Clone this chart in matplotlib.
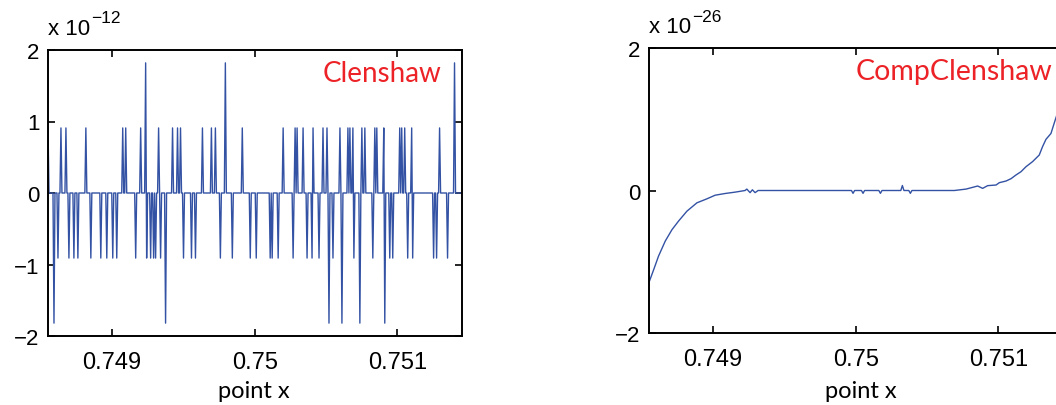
import numpy as np
import matplotlib
matplotlib.use('Agg')
import matplotlib.pyplot as plt

plt.rcParams['font.family'] = ['Liberation Sans', 'DejaVu Sans']
plt.rcParams['axes.unicode_minus'] = True

# Clenshaw error (units of 1e-12): positions of the spikes, everything else is 0
lvl1, lvl2 = 0.91, 1.82
up1_x = [0.748550, 0.748643, 0.748676, 0.748816, 0.749077, 0.749096, 0.749203,
         0.749324, 0.749424, 0.749457, 0.749480, 0.749634, 0.749697, 0.749725,
         0.749916, 0.750196, 0.750280, 0.750299, 0.750336, 0.750406, 0.750476,
         0.750508, 0.750594, 0.750650, 0.750669, 0.750687, 0.750748, 0.750773,
         0.750843, 0.750858, 0.750904, 0.751014, 0.751030, 0.751049, 0.751101,
         0.751273, 0.751294]
up2_x = [0.749236, 0.749797, 0.751402]
dn1_x = [0.748622, 0.748694, 0.748729, 0.748760, 0.748850, 0.748923, 0.748965,
         0.749003, 0.749035, 0.749164, 0.749245, 0.749273, 0.749289, 0.749304,
         0.749343, 0.749497, 0.749555, 0.749583, 0.749759, 0.749846, 0.749972,
         0.750007, 0.750105, 0.750121, 0.750161, 0.750271, 0.750366, 0.750399,
         0.750452, 0.750550, 0.750692, 0.750825, 0.750946, 0.750970, 0.751075,
         0.751110, 0.751253, 0.751276, 0.751352]
dn2_x = [0.748590, 0.749376, 0.750524, 0.750613, 0.750738, 0.750914]

# CompClenshaw error (units of 1e-26)
comp_x = [0.748548, 0.748583, 0.748617, 0.748664, 0.748711, 0.748757, 0.748816,
          0.748886, 0.748956, 0.749014, 0.749084, 0.749154, 0.749224, 0.749236,
          0.749259, 0.749275, 0.749294, 0.749315, 0.749970, 0.749981, 0.749992,
          0.750040, 0.750051, 0.750062, 0.750162, 0.750173, 0.750184, 0.750316,
          0.750327, 0.750338, 0.750372, 0.750383, 0.750394, 0.750692, 0.750774,
          0.750855, 0.750890, 0.750925, 0.750984, 0.751007, 0.751054, 0.751089,
          0.751124, 0.751159, 0.751194, 0.751240, 0.751287, 0.751310, 0.751334,
          0.751369, 0.751380, 0.751399, 0.751450]
comp_y = [-1.30, -1.11, -0.92, -0.71, -0.55, -0.43, -0.29, -0.173, -0.117,
          -0.066, -0.042, -0.023, 0.0, 0.02, -0.03, 0.01, -0.03, 0.0, 0.0,
          -0.04, 0.0, 0.0, -0.04, 0.0, 0.0, -0.04, 0.0, 0.0, 0.07, 0.0, 0.0,
          -0.04, 0.0, 0.0, 0.02, 0.063, 0.03, 0.068, 0.077, 0.11, 0.133, 0.166,
          0.218, 0.264, 0.334, 0.405, 0.498, 0.615, 0.718, 0.80, 0.87, 0.99, 1.30]

xlim = (0.74855, 0.75145)
xt = [0.749, 0.75, 0.751]
xt_lab = ['0.749', '0.75', '0.751']

# build the sampled Clenshaw series
xl = np.linspace(xlim[0], xlim[1], 416)
yl = np.zeros_like(xl)
for xs, v in [(up1_x, lvl1), (up2_x, lvl2), (dn1_x, -lvl1), (dn2_x, -lvl2)]:
    for p in xs:
        yl[np.argmin(np.abs(xl - p))] = v

blue = '#3352a4'
red = '#ec2227'
W, H = 1056, 406
fig = plt.figure(figsize=(W / 100, H / 100), dpi=100)


def style(ax, yt, lab_x, lab_y):
    ax.set_xlim(xlim)
    ax.set_ylim(-2, 2)
    ax.set_xticks(xt)
    ax.set_xticklabels(xt_lab)
    ax.set_yticks(yt)
    ax.tick_params(direction='in', length=5, width=1.2, top=True, right=True)
    ax.tick_params(axis='x', pad=10.5, labelsize=17)
    ax.tick_params(axis='y', pad=6, labelsize=16)
    for s in ax.spines.values():
        s.set_linewidth(1.4)
    ax.set_xlabel('point x', family='Lato', fontsize=17)
    ax.xaxis.label.set_va('baseline')
    ax.xaxis.set_label_coords(lab_x, lab_y)


def exponent(x0, base, sup, power):
    fig.text(x0 / W, 1 - base / H, 'x 10', fontsize=16, va='baseline')
    fig.text((x0 + 42.5) / W, 1 - sup / H, power, fontsize=12.5, va='baseline')


ax1 = fig.add_axes([48 / W, 69 / H, 413.5 / W, 286 / H])
ax1.plot(xl, yl, color=blue, lw=1.0)
style(ax1, [-2, -1, 0, 1, 2], 0.498, -0.213)
ax1.text(0.663, 0.92, 'Clenshaw', transform=ax1.transAxes, color=red,
         family='Lato', fontsize=20, va='center', ha='left')
exponent(48.5, 35, 23.3, '\u221212')

ax2 = fig.add_axes([649 / W, 72 / H, 413.5 / W, 285 / H])
ax2.plot(comp_x, comp_y, color=blue, lw=1.0)
style(ax2, [-2, 0, 2], 0.512, -0.2246)
ax2.text(0.5, 0.92, 'CompClenshaw', transform=ax2.transAxes, color=red,
         family='Lato', fontsize=20.5, va='center', ha='left')
exponent(649.3, 33.3, 21.7, '\u221226')

fig.savefig('out.png', dpi=100)
